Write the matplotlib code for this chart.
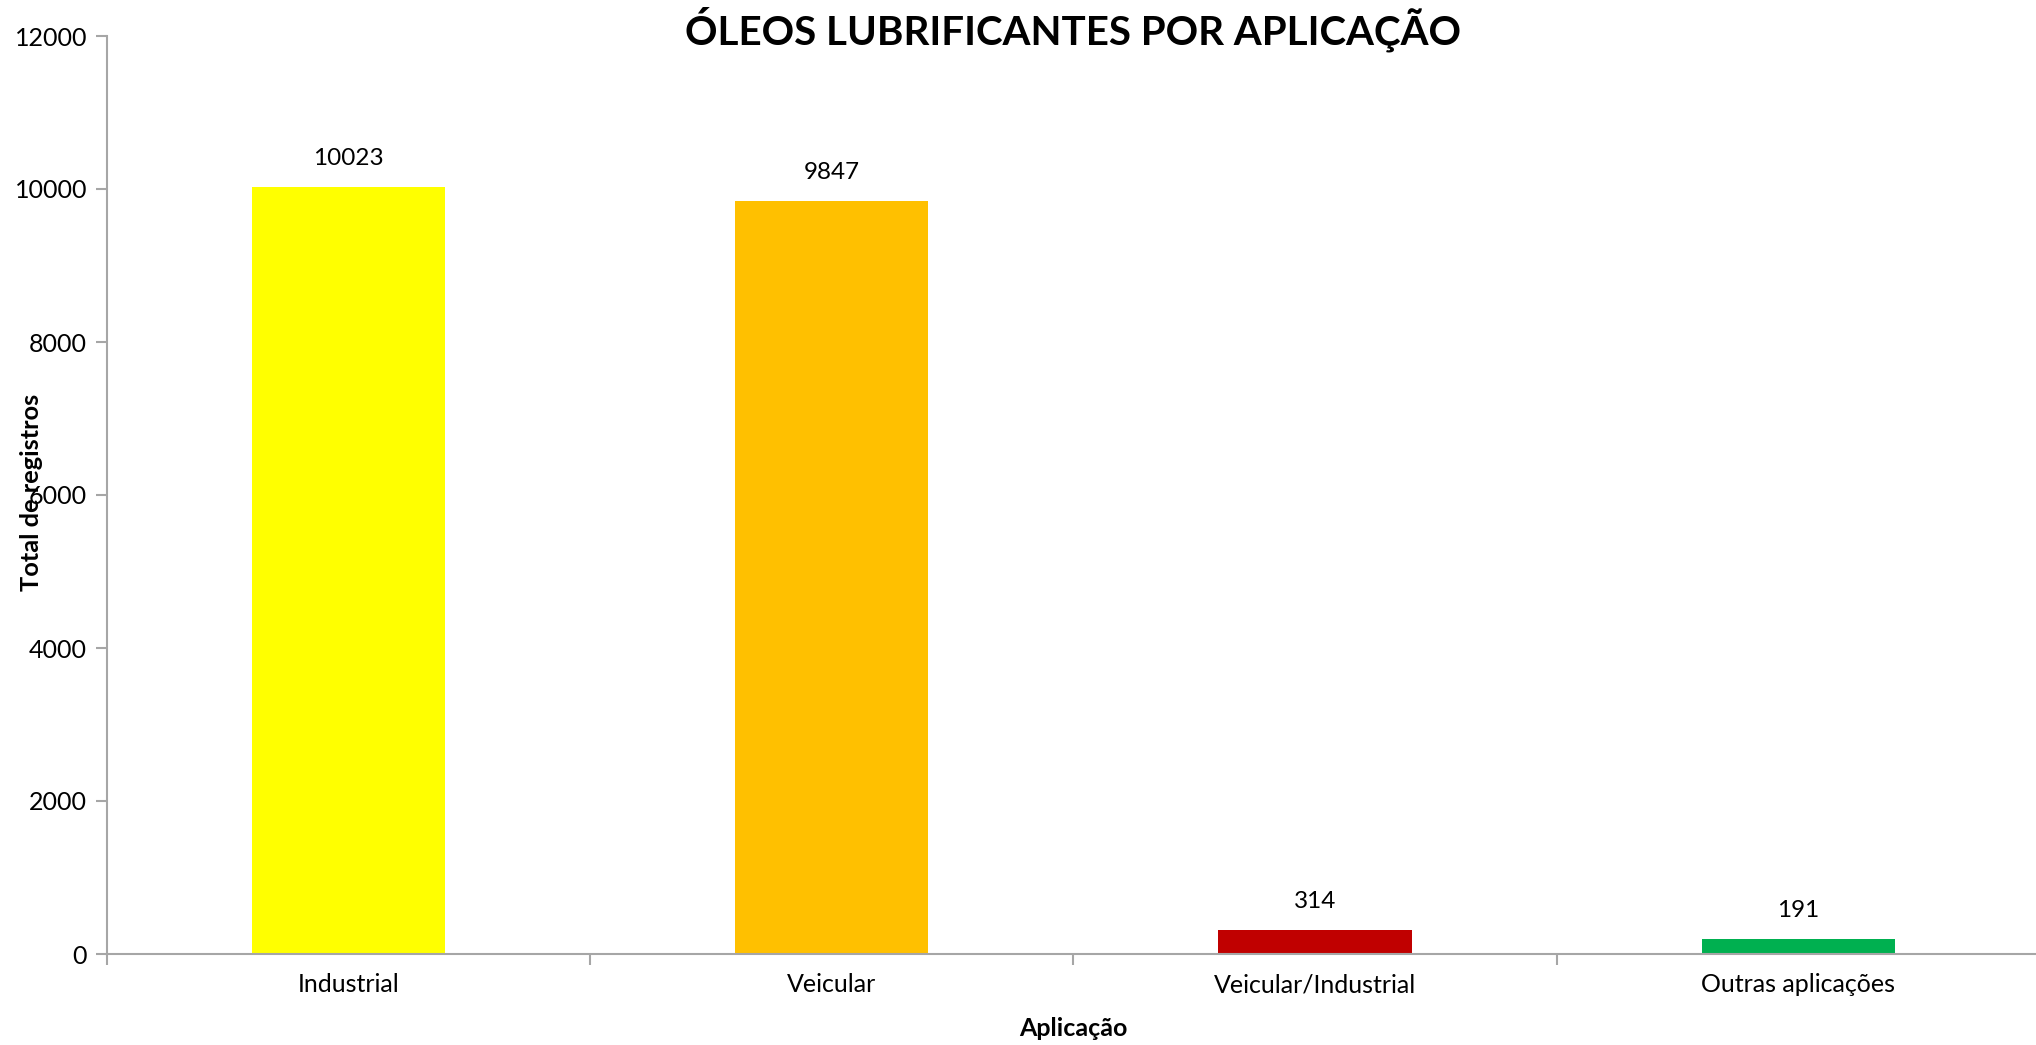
import matplotlib
matplotlib.use("Agg")
import matplotlib.pyplot as plt
from matplotlib.ticker import FixedLocator, NullFormatter

categories = ["Industrial", "Veicular", "Veicular/Industrial", "Outras aplicações"]
values = [10023, 9847, 314, 191]
colors = ["#FFFF00", "#FFC000", "#C00000", "#00B050"]
yticks = [0, 2000, 4000, 6000, 8000, 10000, 12000]

plt.rcParams['font.family'] = ['Lato', 'DejaVu Sans']

W, H = 2036, 1045
fig = plt.figure(figsize=(W / 100, H / 100), dpi=100)
left, right, bottom, top = 106.5, 2040, 954, 36
ax = fig.add_axes([left / W, 1 - bottom / H, (right - left) / W, (bottom - top) / H])

x = list(range(len(categories)))
bars = ax.bar(x, values, width=0.4, color=colors, zorder=2)

ax.set_xlim(-0.5, len(categories) - 0.5)
ax.set_ylim(0, 12000)
ax.set_yticks(yticks)
ax.set_yticklabels([str(t) for t in yticks])
ax.set_xticks(x)
ax.set_xticklabels(categories)
ax.xaxis.set_minor_locator(FixedLocator([i - 0.5 for i in range(len(categories) + 1)]))
ax.xaxis.set_minor_formatter(NullFormatter())

spine_color = "#A6A6A6"
for s in ["top", "right"]:
    ax.spines[s].set_visible(False)
for s in ["left", "bottom"]:
    ax.spines[s].set_color(spine_color)
    ax.spines[s].set_linewidth(1.5)

ax.tick_params(axis="y", which="major", length=8, width=1.5, color=spine_color,
               labelsize=18, pad=6, labelcolor="black")
ax.tick_params(axis="x", which="major", length=0, labelsize=18, pad=14, labelcolor="black")
ax.tick_params(axis="x", which="minor", length=8, width=1.5, color=spine_color)

for b, v in zip(bars, values):
    ax.annotate(str(v), (b.get_x() + b.get_width() / 2, v), xytext=(0, 13),
                textcoords="offset points", ha="center", va="bottom", fontsize=17.5)

fig.text(1073 / W, 1 - 29 / H, "ÓLEOS LUBRIFICANTES POR APLICAÇÃO", ha="center", va="center",
         fontsize=29, fontweight="bold")
fig.text(32 / W, 1 - 492 / H, "Total de registros", rotation=90, ha="center", va="center",
         fontsize=18.3, fontweight="bold")
fig.text(1073 / W, 1 - 1028 / H, "Aplicação", ha="center", va="center",
         fontsize=18, fontweight="bold")

fig.savefig("out.png", dpi=100)
